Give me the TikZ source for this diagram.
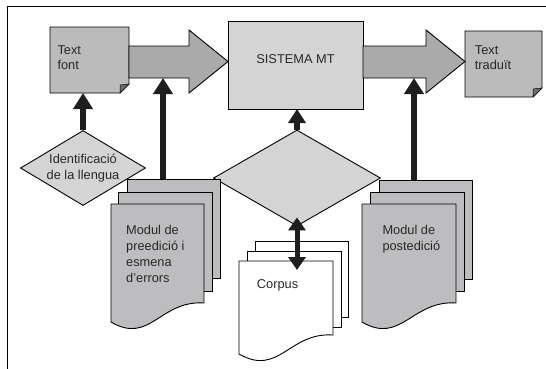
\documentclass[tikz,border=0pt]{standalone}
\usepackage{fontspec}
\setmainfont{Liberation Sans}
\usetikzlibrary{arrows.meta,shapes.geometric,calc}
\definecolor{notegray}{RGB}{187,187,187}
\definecolor{foldgray}{RGB}{110,110,110}
\definecolor{arrowgray}{RGB}{170,170,170}
\definecolor{lightgray}{RGB}{212,212,212}
\definecolor{modgray}{RGB}{189,189,192}
\definecolor{inkgray}{RGB}{30,30,30}
\definecolor{txtgray}{RGB}{40,40,40}
\begin{document}
\begin{tikzpicture}[x=1pt,y=-1pt,
  font=\fontsize{12.8}{16}\selectfont,
  every node/.style={text=txtgray},
  area/.style={draw=none,inner sep=0pt,outer sep=0pt,rectangle},
  outl/.style={draw=black,line width=0.9pt,line join=miter},
  lbl/.style={inner sep=0pt,anchor=north west,align=left},
  notelbl/.style={lbl,font=\fontsize{12.8}{15}\selectfont},
  bigarrow/.style={outl,fill=arrowgray},
  tarrow/.style={draw=inkgray,line width=6.5pt,-{Triangle[width=19pt,length=16pt]}},
  sarrow/.style={draw=inkgray,line width=5.5pt,-{Triangle[width=17pt,length=14pt]}},
  darrow/.style={draw=inkgray,line width=5pt,{Triangle[width=17pt,length=13pt]}-{Triangle[width=17pt,length=13pt]}},
  rhomb/.style={diamond,draw=black,line width=0.9pt,fill=lightgray,inner sep=0pt,aspect=1.667}
]
\useasboundingbox (0,0) rectangle (546,368);
% frame
\draw[line width=1pt] (7.5,380) -- (7.5,6) -- (560,6);

% ---------- nodes (areas) ----------
\node[area,minimum width=79pt,minimum height=66pt] (tf) at (89.5,60) {};
\node[area,minimum width=135pt,minimum height=88pt] (sys) at (295.5,65) {};
\node[area,minimum width=77pt,minimum height=66pt] (tt) at (503.5,64) {};
% document stacks: front (straight part), middle, back
\node[area,minimum width=93pt,minimum height=99pt] (pre) at (157.5,253.5) {};
\node[area,minimum width=94pt,minimum height=99pt] (pre2) at (165,241.5) {};
\node[area,minimum width=93pt,minimum height=99pt] (pre3) at (173.5,228.5) {};
\node[area,minimum width=94pt,minimum height=74pt] (cor) at (286,298) {};
\node[area,minimum width=94pt,minimum height=76pt] (cor2) at (294,289) {};
\node[area,minimum width=93pt,minimum height=76pt] (cor3) at (301.5,279) {};
\node[area,minimum width=94pt,minimum height=99pt] (post) at (409,253.5) {};
\node[area,minimum width=94pt,minimum height=99pt] (post2) at (417,241.5) {};
\node[area,minimum width=93pt,minimum height=99pt] (post3) at (425.5,229.5) {};

% ---------- notes ----------
\draw[outl,fill=notegray] (tf.north west) -- (tf.north east) -- ($(tf.south east)+(0,-9)$)
  -- ($(tf.south east)+(-9,0)$) -- (tf.south west) -- cycle;
\draw[fill=foldgray,draw=black,line width=0.5pt] ($(tf.south east)+(-9,0)$) -- ($(tf.south east)+(-9,-8)$) -- ($(tf.south east)+(0,-9)$) -- cycle;
\node[notelbl] (tftxt) at (57.3,45.4) {Text\\font};

\draw[outl,fill=notegray] (tt.north west) -- (tt.north east) -- ($(tt.south east)+(0,-9)$)
  -- ($(tt.south east)+(-9,0)$) -- (tt.south west) -- cycle;
\draw[fill=foldgray,draw=black,line width=0.5pt] ($(tt.south east)+(-9,0)$) -- ($(tt.south east)+(-9,-8)$) -- ($(tt.south east)+(0,-9)$) -- cycle;
\node[notelbl] (tttxt) at (474.7,45.4) {Text\\tradu\"it};

% ---------- system box ----------
\draw[outl,fill=lightgray] (sys.north west) rectangle (sys.south east);
\node[inner sep=0pt] (systxt) at (295.5,59.5) {SISTEMA MT};

% ---------- big arrows ----------
\draw[bigarrow] (tf.east |- 0,46) -- (189,46) -- (189,30) -- (sys.west |- 0,61.5)
  -- (189,93) -- (189,78) -- (tf.east |- 0,78) -- cycle;
\draw[bigarrow] (sys.east |- 0,46) -- (426,46) -- (426,30) -- (tt.west |- 0,61.5)
  -- (426,93) -- (426,78) -- (sys.east |- 0,78) -- cycle;
\coordinate (a1b) at (163,78);
\coordinate (a2b) at (414,78);

% ---------- diamonds ----------
\node[rhomb,minimum width=125pt,minimum height=75pt,align=center,
      font=\fontsize{12.8}{16.4}\selectfont] (idl) at (83,168) {Identificaci\'o\\de la llengua};
\node[rhomb,minimum width=167pt,minimum height=96pt] (cd) at (297,178) {};

% ---------- document stacks ----------
\draw[outl,fill=modgray] (pre3.north west) rectangle (pre3.south east);
\draw[outl,fill=modgray] (pre2.north west) rectangle (pre2.south east);
\draw[outl,fill=modgray] (pre.north west) -- (pre.north east) -- (pre.south east)
  .. controls +(-44,-3) and +(39,23) .. ($(pre.south west)+(0,19)$) -- cycle;
\node[lbl] (pretxt) at (126,225.4) {Modul de\\preedici\'o i\\esmena\\d’errors};

\draw[outl,fill=modgray] (post3.north west) rectangle (post3.south east);
\draw[outl,fill=modgray] (post2.north west) rectangle (post2.south east);
\draw[outl,fill=modgray] (post.north west) -- (post.north east) -- (post.south east)
  .. controls +(-44,-3) and +(39,23) .. ($(post.south west)+(0,19)$) -- cycle;
\node[lbl] (posttxt) at (382.3,225.4) {Modul de\\postedici\'o};

\draw[outl,fill=white] (cor3.north west) rectangle (cor3.south east);
\draw[outl,fill=white] (cor2.north west) rectangle (cor2.south east);
\draw[outl,fill=white] (cor.north west) -- (cor.north east) -- (cor.south east)
  .. controls +(-44,-3) and +(40,23) .. ($(cor.south west)+(0,19)$) -- cycle;
\node[lbl] (cortxt) at (256.7,279.7) {Corpus};

% ---------- thick arrows ----------
\draw[tarrow] (idl.north) -- (idl.north |- tf.south);
\draw[tarrow] (pre3.north -| a1b) -- (a1b);
\draw[tarrow] (post3.north -| a2b) -- (a2b);
\draw[sarrow] (cd.north) -- (cd.north |- sys.south);
\draw[darrow] ($(cd.south)+(0,-9)$) -- ($(cor.north -| cd.south)+(0,9)$);
\end{tikzpicture}
\end{document}
